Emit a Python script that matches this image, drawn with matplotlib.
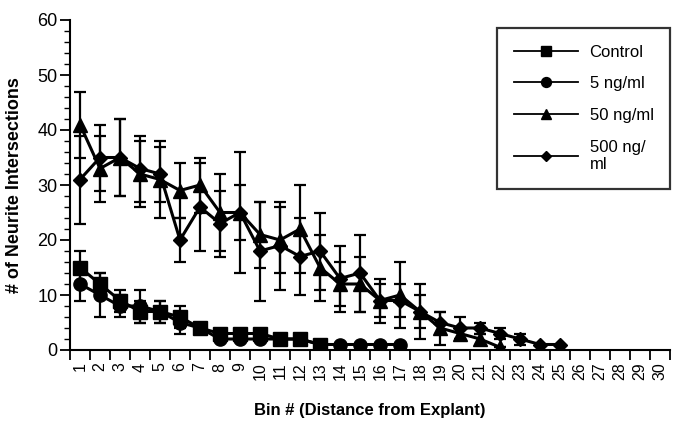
import matplotlib
matplotlib.use("Agg")
import matplotlib.pyplot as plt
from matplotlib.ticker import MultipleLocator, FixedLocator
from matplotlib.lines import Line2D
import numpy as np

plt.rcParams['font.family'] = ['Liberation Sans', 'DejaVu Sans']

# data (mean, error)
control = [15, 12, 9, 7, 7, 6, 4, 3, 3, 3, 2, 2, 1]
control_err = [3, 2, 2, 2, 2, 2, 0, 0, 0, 0, 0, 0, 0]
ng5 = [12, 10, 8, 8, 7, 5, 4, 2, 2, 2, 2, 2, 1, 1, 1, 1, 1]
ng5_err = [3, 4, 2, 3, 2, 2, 0, 0, 0, 0, 0, 0, 0, 0, 0, 0, 0]
ng50 = [41, 33, 35, 32, 31, 29, 30, 25, 25, 21, 20, 22, 15, 12, 12, 9, 10, 7, 4, 3, 2, 0.5]
ng50_err = [6, 6, 7, 6, 7, 5, 5, 7, 5, 6, 6, 8, 6, 4, 5, 3, 6, 5, 3, 1, 1, 0]
ng500 = [31, 35, 35, 33, 32, 20, 26, 23, 25, 18, 19, 17, 18, 13, 14, 9, 9, 7, 5, 4, 4, 3, 2, 1, 1]
ng500_err = [8, 6, 7, 6, 5, 4, 8, 6, 11, 9, 8, 7, 7, 6, 7, 4, 3, 3, 2, 2, 1, 1, 1, 0, 0]
labels = ["Control", "5 ng/ml", "50 ng/ml", "500 ng/\nml"]
bins = [str(i) for i in range(1, 31)]

fig = plt.figure(figsize=(6.77, 4.26), dpi=100)
ax = fig.add_axes([70/677, 1-350/426, 600/677, 330/426])

series = [(control, control_err, 's', 9.5),
          (ng5, ng5_err, 'o', 9.5),
          (ng50, ng50_err, '^', 9.5),
          (ng500, ng500_err, 'D', 7)]
handles = []
for vals, err, mk, ms in series:
    x = np.arange(1, len(vals) + 1)
    ax.errorbar(x, vals, yerr=err, fmt='none', ecolor='black', elinewidth=1.6,
                capsize=4, capthick=1.6)
    ax.plot(x, vals, color='black', lw=2.2, marker=mk, ms=ms)
    # legend keys are drawn thinner and smaller in the original
    handles.append(Line2D([], [], color='black', lw=1.3, marker=mk, ms=ms * 0.75))

ax.set_xlim(0.5, 30.5)
ax.set_ylim(0, 60)
ax.spines['top'].set_visible(False)
ax.spines['right'].set_visible(False)
ax.spines['left'].set_linewidth(1.5)
ax.spines['bottom'].set_linewidth(1.5)

ax.yaxis.set_major_locator(MultipleLocator(10))
ax.yaxis.set_minor_locator(MultipleLocator(2))
ax.tick_params(axis='y', which='major', length=7, width=1.3, labelsize=13, pad=2)
ax.tick_params(axis='y', which='minor', length=4, width=1)

ax.xaxis.set_major_locator(FixedLocator(range(1, 31)))
ax.set_xticklabels(bins, rotation=90)
ax.xaxis.set_minor_locator(FixedLocator(np.arange(0.5, 31, 1)))
ax.tick_params(axis='x', which='major', length=0, labelsize=11.5, pad=9)
ax.tick_params(axis='x', which='minor', length=7, width=1.3)

ax.set_ylabel("# of Neurite Intersections", fontsize=13, fontweight='bold', labelpad=10)
ax.set_xlabel("Bin # (Distance from Explant)", fontsize=12, fontweight='bold', labelpad=16)

leg = ax.legend(handles, labels, loc='upper left', bbox_to_anchor=(497/677, 1-28/426),
                bbox_transform=fig.transFigure, borderaxespad=0, fontsize=12,
                frameon=True, fancybox=False, edgecolor='black', handlelength=3.85,
                labelspacing=1.0, borderpad=1.0, handletextpad=0.7)
leg.get_frame().set_linewidth(1.6)

fig.savefig("out.png", dpi=100)
